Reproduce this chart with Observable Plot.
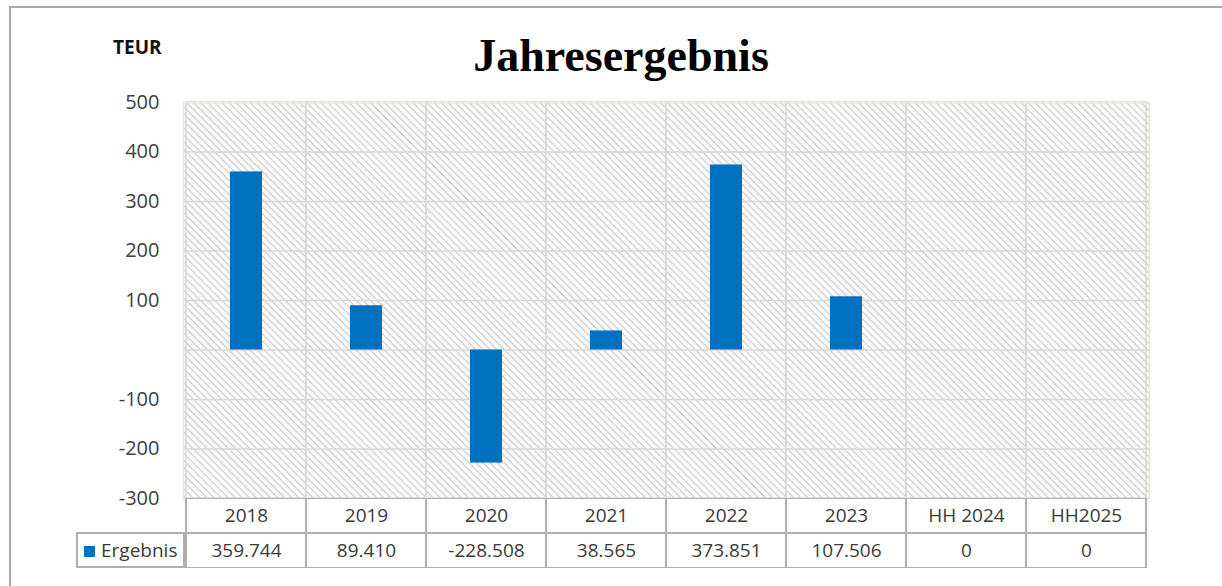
<!DOCTYPE html>
<html>
<head>
<meta charset="utf-8">
<script src="https://cdn.jsdelivr.net/npm/d3@7"></script>
<script src="https://cdn.jsdelivr.net/npm/@observablehq/plot@0.6"></script>
<style>
  html, body { margin: 0; padding: 0; background: #fff; overflow: hidden; }
  #wrap { position: relative; width: 1222px; height: 586px; overflow: hidden; background: #fff; }
  #outer { position: absolute; left: 9px; top: 6px; width: 1400px; height: 800px; border: 2px solid #a9a9a9; box-sizing: border-box; }
  #title { position: absolute; left: 0; width: 1242px; top: 28px; text-align: center; font-family: "Liberation Serif", serif; font-weight: bold; font-size: 46px; color: #000; line-height: 56px; }
  #unit { position: absolute; left: 113px; top: 34px; font-family: "Open Sans", sans-serif; font-weight: bold; font-size: 19px; color: #111; line-height: 26px; }
  #chart { position: absolute; left: 0; top: 0; }
  #table { position: absolute; left: 0; top: 498px; }
  #legcell { position: absolute; left: 76px; top: 532px; width: 109px; height: 36px; border: 2px solid #b0b0b0; box-sizing: border-box; background: #fff;
    font-family: "Open Sans", sans-serif; font-size: 19px; color: #3a3a3a; line-height: 32px; white-space: nowrap; }
  #legcell .sw { display: inline-block; width: 11px; height: 11px; background: #0070c0; margin-left: 6px; margin-right: 6px; vertical-align: 0px; }
</style>
</head>
<body>
<div id="wrap">
  <div id="outer"></div>
  <div id="title">Jahresergebnis</div>
  <div id="unit">TEUR</div>
  <div id="chart"></div>
  <div id="table"></div>
  <div id="legcell"><span class="sw"></span>Ergebnis</div>
</div>
<script>
// ---- data ----
const categories = ["2018", "2019", "2020", "2021", "2022", "2023", "HH 2024", "HH2025"];
const ergebnis = [359.744, 89.410, -228.508, 38.565, 373.851, 107.506, 0, 0];
const yTickLabels = [-300, -200, -100, 100, 200, 300, 400, 500];
const yGridValues = [-300, -200, -100, 0, 100, 200, 300, 400, 500];
const seriesName = "Ergebnis";

const data = categories.map((c, i) => ({cat: c, value: ergebnis[i]}));
const fmt = v => v === 0 ? "0" : v.toFixed(3);

const W = 1222, H = 586;
const mLeft = 183, mRight = 73, mTop = 102, mBottom = 88;

const chart = Plot.plot({
  width: W, height: H,
  marginLeft: mLeft, marginRight: mRight, marginTop: mTop, marginBottom: mBottom,
  style: {background: "transparent", fontFamily: "'Open Sans', sans-serif"},
  x: {domain: categories, padding: 0, axis: null, label: null},
  y: {domain: [-300, 500], axis: null, label: null},
  marks: [
    Plot.frame({fill: "url(#hatch)", stroke: null}),
    Plot.cell(categories, {x: d => d, fill: "none", stroke: "#d9d9d9", strokeWidth: 1.5}),
    Plot.gridY(yGridValues, {stroke: "#d9d9d9", strokeOpacity: 1, strokeWidth: 1.5}),
    Plot.barY(data, {x: "cat", y: "value", fill: "#0070c0", insetLeft: 44, insetRight: 44}),
    Plot.frame({stroke: "#e6ead8", strokeWidth: 1.5}),
    Plot.axisY(yTickLabels, {tickSize: 0, tickPadding: 24, fontSize: 20, fill: "#404040",
      label: null, tickFormat: d => String(d)})
  ]
});

// hatch pattern for the plot area background
const svg = d3.select(chart.tagName.toLowerCase() === "svg" ? chart : chart.querySelector("svg"));
const defs = svg.insert("defs", ":first-child");
const pat = defs.append("pattern")
  .attr("id", "hatch").attr("patternUnits", "userSpaceOnUse")
  .attr("width", 5).attr("height", 5)
  .attr("patternTransform", "rotate(45)");
pat.append("rect").attr("width", 5).attr("height", 5).attr("fill", "#fbfbfb");
pat.append("line").attr("x1", 0).attr("y1", 0.6).attr("x2", 5).attr("y2", 0.6)
  .attr("stroke", "#cdcdcd").attr("stroke-width", 1.3);

document.getElementById("chart").appendChild(chart);

// ---- data table below the chart ----
const rows = [];
categories.forEach((c, i) => {
  rows.push({cat: c, row: "cat", label: c});
  rows.push({cat: c, row: "val", label: fmt(ergebnis[i])});
});

const table = Plot.plot({
  width: W, height: 70,
  marginLeft: mLeft, marginRight: mRight, marginTop: 0, marginBottom: 0,
  style: {background: "transparent", fontFamily: "'Open Sans', sans-serif"},
  x: {domain: categories, padding: 0, axis: null},
  y: {domain: ["cat", "val"], padding: 0, axis: null},
  marks: [
    Plot.cell(rows, {x: "cat", y: "row", fill: "#fff", stroke: "#b0b0b0", strokeWidth: 2}),
    Plot.text(rows, {x: "cat", y: "row", text: "label", fontSize: 19, fill: "#3a3a3a"})
  ]
});
document.getElementById("table").appendChild(table);
</script>
</body>
</html>
